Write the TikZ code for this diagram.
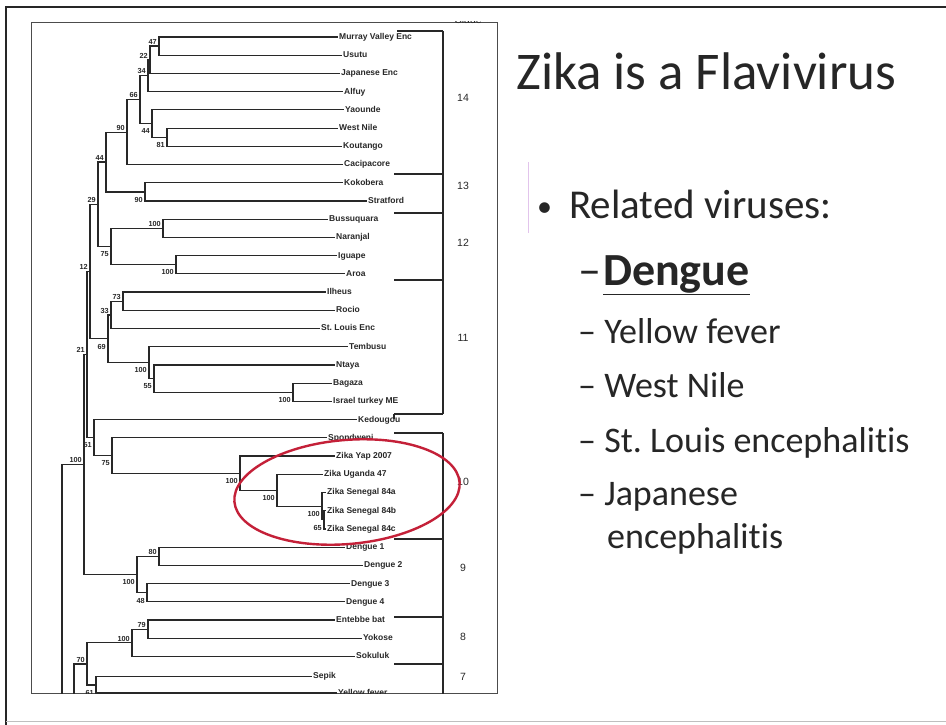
\documentclass[tikz,border=0pt]{standalone}
\usepackage{fontspec}
\setmainfont{Carlito}[Ligatures=NoCommon]
\newfontfamily\treefont{Liberation Sans}
\usetikzlibrary{shapes.geometric}
\definecolor{ringred}{RGB}{196,32,56}
\definecolor{inkgray}{RGB}{40,40,40}
\definecolor{cursorpink}{RGB}{226,196,236}
\frenchspacing
\tikzset{
  branch/.style={draw=inkgray, line width=1.2pt},
  leaf/.style={anchor=west, inner xsep=1pt, inner ysep=0pt, text height=6.6pt, text depth=1.8pt,
    text=inkgray, font=\treefont\bfseries\fontsize{8.5}{8.5}\selectfont},
  bootup/.style={anchor=south east, inner sep=0pt, xshift=-2pt, yshift=1.5pt,
    text=inkgray, font=\treefont\bfseries\fontsize{7.3}{7.3}\selectfont},
  bootdn/.style={anchor=north east, inner sep=0pt, xshift=-2pt, yshift=-5pt,
    text=inkgray, font=\treefont\bfseries\fontsize{7.3}{7.3}\selectfont},
  cladebar/.style={draw=inkgray, line width=1.2pt},
  cladenum/.style={inner sep=0pt, text=inkgray, font=\treefont\fontsize{10.5}{10.5}\selectfont},
  zikaring/.style={draw=ringred, line width=2.4pt, ellipse, inner sep=0pt,
    minimum width=226pt, minimum height=104pt, rotate=5},
  slidetext/.style={anchor=base west, inner sep=0pt, text=black!85}
}
\begin{document}
\begin{tikzpicture}[x=1pt, y=-1pt]
  \useasboundingbox (0,0) rectangle (946,725);
  \fill[white] (0,0) rectangle (946,725);
  % slide border
  \draw[line width=1.6pt, black!85] (6,725) -- (6,7) -- (946,7);
  \draw[black!25] (6,721) -- (946,721);

  % tree panel
  \draw[line width=0.9pt, black!70] (31,22) rectangle (497,693);
  \begin{scope}
    \clip (31,22) rectangle (497,693);
    \foreach \leafname/\leafx/\row/\leaftext in {
      mve/338/0/Murray Valley Enc, usutu/342/1/Usutu, japenc/340/2/Japanese Enc,
      alfuy/343/3/Alfuy, yaounde/344/4/Yaounde, wnv/338/5/West Nile,
      koutango/342/6/Koutango, cacipacore/343/7/Cacipacore, kokobera/343/8/Kokobera,
      stratford/367/9/Stratford, bussuquara/328/10/Bussuquara, naranjal/335/11/Naranjal,
      iguape/337/12/Iguape, aroa/345/13/Aroa, ilheus/326/14/Ilheus,
      rocio/335/15/Rocio, slev/320/16/St. Louis Enc, tembusu/348/17/Tembusu,
      ntaya/335/18/Ntaya, bagaza/332/19/Bagaza, israel/332/20/Israel turkey ME,
      kedougou/357/21/Kedougou, spondweni/327/22/Spondweni, zikayap/335/23/Zika Yap 2007,
      uganda/323/24/Zika Uganda 47, sen84a/326/25/Zika Senegal 84a, sen84b/326/26/Zika Senegal 84b,
      sen84c/326/27/Zika Senegal 84c, den1/345/28/Dengue 1, den2/363/29/Dengue 2,
      den3/350/30/Dengue 3, den4/345/31/Dengue 4, entebbe/335/32/Entebbe bat,
      yokose/362/33/Yokose, sokuluk/355/34/Sokuluk, sepik/312/35.1/Sepik,
      yellowf/337/36/Yellow fever}
      \node[leaf] (\leafname) at (\leafx,{37+18.22*\row}) {\leaftext};

    \foreach \cname/\cx/\cy in {
      n47/159/46.1, n22/150/59.8, n34/148/75.7, n81/167/137.2, n44/152/123.6,
      n66/140/99.7, n90/127/132.1, n90b/145/191.9, n44b/106/162, n100a/163/228.3,
      n100b/176/264.7, n75/111/246.5, n29/98/204.3, n73/123/301.2, n33/111/314.9,
      n100d/293/392.3, n55/154/378.7, n100c/149/362.7, n69/108/338.8, n12/90/271.5,
      n65/324/519.8, n100f/322/506.2, n100e/277/490.2, n100z/240/473.2, n75b/112/455.5,
      n51/94/437.6, n21/87/354.5, n80/159/556.3, n48/147/592.7, n100g/137/574.5,
      n100t/84/464.5, n79/148/629.1, n100h/132/642.8, n61/96/685, n70/87/664,
      root/62/720, p70/74/720}
      \coordinate (\cname) at (\cx,\cy);

    \foreach \p/\c in {
      n47/mve, n47/usutu, n22/n47, n22/japenc, n34/n22, n34/alfuy,
      n81/wnv, n81/koutango, n44/yaounde, n44/n81, n66/n34, n66/n44,
      n90/n66, n90/cacipacore, n90b/kokobera, n90b/stratford, n44b/n90, n44b/n90b,
      n100a/bussuquara, n100a/naranjal, n100b/iguape, n100b/aroa, n75/n100a, n75/n100b,
      n29/n44b, n29/n75, n73/ilheus, n73/rocio, n33/n73, n33/slev,
      n100d/bagaza, n100d/israel, n55/ntaya, n55/n100d, n100c/tembusu, n100c/n55,
      n69/n33, n69/n100c, n12/n29, n12/n69,
      n65/sen84b, n65/sen84c, n100f/sen84a, n100f/n65, n100e/uganda, n100e/n100f,
      n100z/zikayap, n100z/n100e, n75b/spondweni, n75b/n100z, n51/kedougou, n51/n75b,
      n21/n12, n21/n51, n80/den1, n80/den2, n48/den3, n48/den4, n100g/n80, n100g/n48,
      n100t/n21, n100t/n100g, root/n100t,
      n79/entebbe, n79/yokose, n100h/n79, n100h/sokuluk, n61/sepik, n61/yellowf,
      n70/n100h, n70/n61, p70/n70}
      \draw[branch] (\p) |- (\c);

    % support values
    \foreach \nd/\val in {n47/47, n22/22, n34/34, n66/66, n90/90, n44b/44, n29/29,
      n100a/100, n12/12, n73/73, n33/33, n21/21, n100t/100, n80/80, n79/79,
      n100h/100, n70/70}
      \node[bootup] (b\nd) at (\nd) {\val};
    \foreach \nd/\val in {n44/44, n81/81, n90b/90, n75/75, n100b/100, n69/69,
      n100c/100, n55/55, n100d/100, n51/51, n75b/75, n100z/100, n100e/100,
      n100f/100, n65/65, n48/48, n100g/100, n61/61}
      \node[bootdn] (b\nd) at (\nd) {\val};

    % clade brackets
    \foreach \y in {174,213,280,414,433,539,617,664}
      \draw[cladebar] (394,\y) -- (443,\y);
    \draw[cladebar, line width=2pt] (397,31) -- (443,31);
    \draw[cladebar] (443,31) -- (443,414) (443,433) -- (443,700) (394,414) -- (394,419);
    \foreach \cl/\cy in {14/98, 13/186, 12/243, 11/338, 10/482, 9/568, 8/637, 7/677}
      \node[cladenum] (clade\cl) at (463,\cy) {\cl};
    \node[cladenum] (cladehead) at (468,19.5) {Clade};
  \end{scope}
  \node[zikaring] (ring) at (347,492) {};

  % slide text
  \draw[cursorpink, line width=0.8pt] (528,162) -- (528,233);
  \node[slidetext, font=\fontsize{53}{53}\selectfont] (title) at (516,90) {Zika is a Flavivirus};
  \node[slidetext, font=\fontsize{30}{30}\selectfont] (bullet) at (537,216) {•};
  \node[slidetext, font=\fontsize{41}{41}\selectfont] (related) at (569,218) {Related viruses:};
  \node[slidetext, font=\fontsize{46}{46}\selectfont] (dengue) at (578,285) {–\kern2pt\textbf{\underline{Dengue}}};
  \node[slidetext, font=\fontsize{36}{36}\selectfont] (itemyf) at (578,343) {– Yellow fever};
  \node[slidetext, font=\fontsize{36}{36}\selectfont] (itemwn) at (578,397) {– West Nile};
  \node[slidetext, font=\fontsize{36}{36}\selectfont] (itemsle) at (578,452) {– St. Louis encephalitis};
  \node[slidetext, font=\fontsize{36}{36}\selectfont] (itemje) at (578,505) {– Japanese};
  \node[slidetext, font=\fontsize{36}{36}\selectfont] (itemje2) at (607,548) {encephalitis};
\end{tikzpicture}
\end{document}
